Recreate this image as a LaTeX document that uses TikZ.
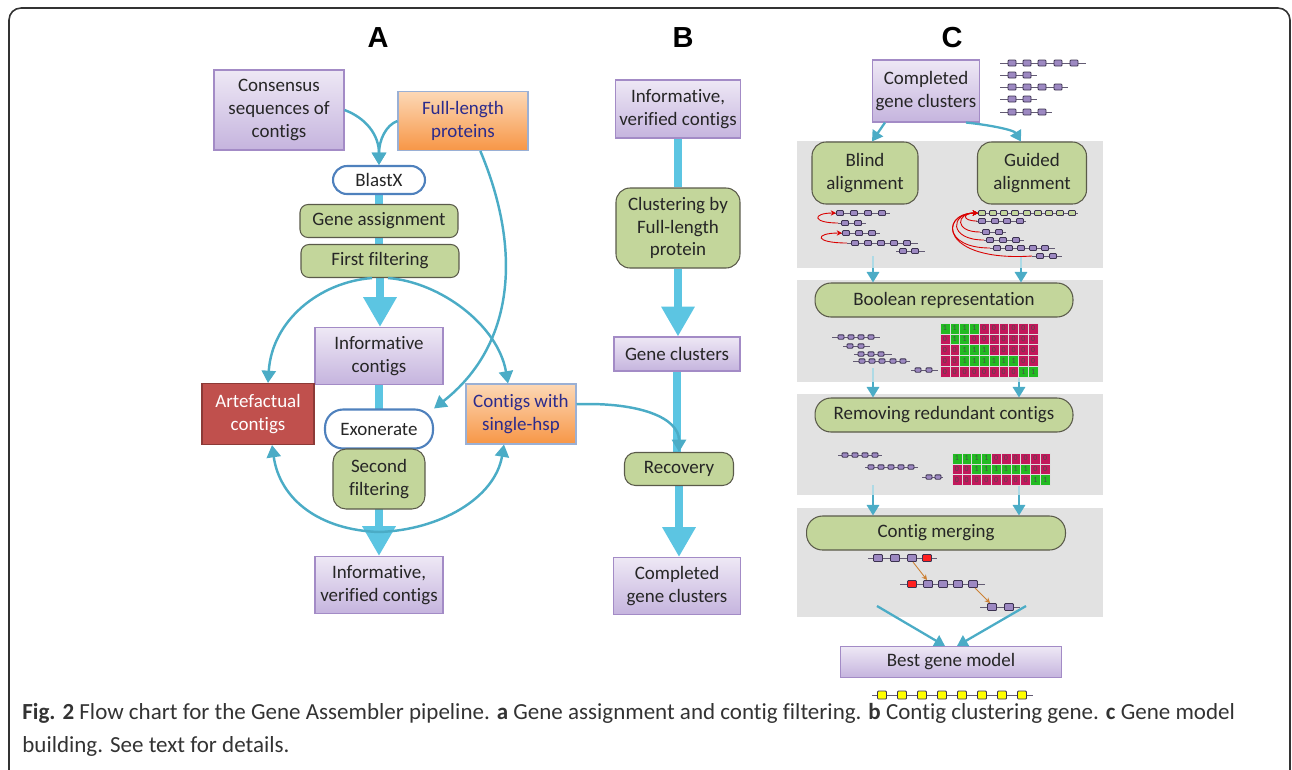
\documentclass[tikz,border=0pt]{standalone}
\usepackage{fontspec}
\setmainfont{Carlito}[Ligatures=CommonOff]
\newfontfamily\titlefont{Liberation Sans}
\usetikzlibrary{arrows.meta,backgrounds}

\definecolor{textdark}{HTML}{262626}
\definecolor{purpletop}{HTML}{EEE8F5}
\definecolor{purplebot}{HTML}{C5B4DE}
\definecolor{purpleline}{HTML}{A38BC6}
\definecolor{orangetop}{HTML}{FCD8B6}
\definecolor{orangebot}{HTML}{F79646}
\definecolor{orangeline}{HTML}{9AB0D5}
\definecolor{navytext}{HTML}{2B2B8C}
\definecolor{artered}{HTML}{C0504D}
\definecolor{redline}{HTML}{8C3A37}
\definecolor{greenfill}{HTML}{C3D69B}
\definecolor{greenline}{HTML}{5A5A4A}
\definecolor{pillblue}{HTML}{4F81BD}
\definecolor{arrowblue}{HTML}{4BACC6}
\definecolor{fatblue}{HTML}{5CC5E2}
\definecolor{panelgrey}{HTML}{E2E2E2}
\definecolor{exonfill}{HTML}{9D89C2}
\definecolor{exonedge}{HTML}{3C3250}
\definecolor{guidefill}{HTML}{C3D69B}
\definecolor{boolgreen}{HTML}{22BB22}
\definecolor{boolred}{HTML}{C2185B}
\definecolor{yellowex}{HTML}{FFFF00}
\definecolor{mergered}{HTML}{FF2020}
\definecolor{captext}{HTML}{333333}

% size of the little exon boxes (half width, half height, in px)
\newcommand{\exw}{3.5}
\newcommand{\exh}{2.5}
% one row of exons: [fill]{y}{line from}{line to}{box centres}
\newcommand{\exonrow}[5][exonfill]{%
  \draw[exonline] (#3,#2) -- (#4,#2);
  \foreach \bx in {#5}
    \draw[exonbox,fill=#1] (\bx-\exw,#2-\exh) rectangle (\bx+\exw,#2+\exh);
}
% boolean matrix: {name}{x0}{y0}{rows}
\newcommand{\boolgrid}[4]{%
  \foreach \row [count=\r] in {#4} {
    \foreach \v [count=\c] in \row {
      \ifnum\v=1 \def\cc{boolgreen}\else\def\cc{boolred}\fi
      \node[cell,fill=\cc] (#1-\r-\c) at (#2+\c*9.8-4.9,#3+\r*10.8-5.4) {\v};
    }
  }
}

\begin{document}
\begin{tikzpicture}
    [   x=0.02cm, y=-0.02cm,
        box/.style={align=center, inner sep=1pt, line width=0.6pt, text=textdark,
                    font=\fontsize{10.8}{13}\selectfont},
        purplebox/.style={box, draw=purpleline, top color=purpletop, bottom color=purplebot},
        orangebox/.style={box, draw=orangeline, top color=orangetop, bottom color=orangebot, text=navytext},
        redbox/.style={box, draw=redline, fill=artered, text=white},
        greenbox/.style={box, draw=greenline, fill=greenfill, rounded corners=#1},
        greenbox/.default=0.2cm,
        pillbox/.style={box, draw=pillblue, line width=1.2pt, fill=white, rounded corners=#1},
        paneltitle/.style={font=\titlefont\bfseries\fontsize{16.5}{18}\selectfont},
        thinarrow/.style={draw=arrowblue, line width=1.4pt, -{Triangle[width=8pt,length=7pt]}},
        linkarrow/.style={draw=arrowblue, line width=1.3pt, -{Triangle[width=7pt,length=6pt]}},
        fadestem/.style={draw=arrowblue!45, line width=1.3pt},
        fatline/.style={draw=fatblue, line width=5pt},
        fatarrow/.style={fatline, -{Triangle[width=18pt,length=17pt]}},
        exonline/.style={draw=exonedge!80, line width=0.5pt},
        exonbox/.style={draw=exonedge, line width=0.5pt, rounded corners=0.5pt},
        redloop/.style={draw=red!85!black, line width=0.5pt, -{Stealth[length=3pt,width=3pt]}},
        mergelink/.style={draw=brown!80!orange, line width=0.5pt, -{Stealth[length=3pt,width=3pt]}},
        cell/.style={draw=white!75!gray, line width=0.3pt, inner sep=0pt,
                     minimum width=0.196cm, minimum height=0.216cm,
                     text=black!70, font=\fontsize{4.5}{5}\selectfont},
        captionfont/.style={text=captext, inner sep=0pt, font=\fontsize{13.1}{15}\selectfont},
    ]
        \useasboundingbox (0,0) rectangle (1292,769);

        % frame
        \draw[black!80, line width=0.9pt, rounded corners=0.24cm] (9,800) -- (9,8) -- (1290,8) -- (1290,800);

        % panel titles
        \node[paneltitle] (titleA) at (378,38) {A};
        \node[paneltitle] (titleB) at (683,38) {B};
        \node[paneltitle] (titleC) at (952,38) {C};

        % grey panels of C
        \fill[panelgrey] (797,141) rectangle (1103,268);
        \fill[panelgrey] (797,280) rectangle (1103,382);
        \fill[panelgrey] (797,394) rectangle (1103,495);
        \fill[panelgrey] (797,508) rectangle (1103,617);

        % draw the nodes of A
        \node[purplebox, minimum width=2.6cm, minimum height=1.6cm] (cons) at (279,110) {Consensus\\sequences of\\contigs};
        \node[orangebox, minimum width=2.6cm, minimum height=1.18cm] (fullp) at (463,121) {Full-length\\proteins};
        \node[pillbox=0.28cm, minimum width=1.84cm, minimum height=0.56cm] (blastx) at (379,180) {BlastX};
        \node[greenbox=0.16cm, minimum width=3.16cm, minimum height=0.66cm] (geneass) at (379,221) {Gene assignment};
        \node[greenbox=0.16cm, minimum width=3.16cm, minimum height=0.66cm] (firstf) at (380,261) {First filtering};
        \node[purplebox, minimum width=2.56cm, minimum height=1.14cm] (infoA) at (379,356) {Informative\\contigs};
        \node[redbox, minimum width=2.24cm, minimum height=1.22cm] (artef) at (258,414) {Artefactual\\contigs};
        \node[orangebox, minimum width=2.2cm, minimum height=1.2cm] (single) at (521,414) {Contigs with\\single-hsp};
        \node[pillbox=0.36cm, minimum width=2.16cm, minimum height=0.78cm] (exon) at (379,429) {Exonerate};
        \node[greenbox=0.26cm, minimum width=1.84cm, minimum height=1.2cm] (secondf) at (379,479) {Second\\filtering};
        \node[purplebox, minimum width=2.56cm, minimum height=1.14cm] (verA) at (379,585) {Informative,\\verified contigs};

        % draw the nodes of B
        \node[purplebox, minimum width=2.5cm, minimum height=1.16cm] (verB) at (678,109) {Informative,\\verified contigs};
        \node[greenbox=0.28cm, minimum width=2.48cm, minimum height=1.6cm] (clust) at (678,228) {Clustering by\\Full-length\\protein};
        \node[purplebox, minimum width=2.52cm, minimum height=0.68cm] (genecl) at (677,354) {Gene clusters};
        \node[greenbox=0.22cm, minimum width=2.18cm, minimum height=0.66cm] (recov) at (679,469) {Recovery};
        \node[purplebox, minimum width=2.54cm, minimum height=1.14cm] (complB) at (677,586) {Completed\\gene clusters};

        % draw the nodes of C
        \node[purplebox, minimum width=2.14cm, minimum height=1.24cm] (complC) at (926,91) {Completed\\gene clusters};
        \node[greenbox=0.28cm, minimum width=2.12cm, minimum height=1.24cm] (blind) at (865,173) {Blind\\alignment};
        \node[greenbox=0.28cm, minimum width=2.18cm, minimum height=1.24cm] (guided) at (1032,173) {Guided\\alignment};
        \node[greenbox=0.32cm, minimum width=5.16cm, minimum height=0.68cm] (boolrep) at (944,300) {Boolean representation};
        \node[greenbox=0.32cm, minimum width=5.16cm, minimum height=0.68cm] (remove) at (944,415) {Removing redundant contigs};
        \node[greenbox=0.32cm, minimum width=5.18cm, minimum height=0.68cm] (merge) at (936,533) {Contig merging};
        \node[purplebox, minimum width=4.42cm, minimum height=0.62cm] (best) at (951,662) {Best gene model};

        % draw the fat lines
        \begin{scope}[on background layer]
            \draw[fatline] (blastx.south) -- (blastx.south |- firstf.south);
            \draw[fatarrow] (firstf.south) -- (firstf.south |- infoA.north);
            \draw[fatline] (infoA.south) -- (secondf.south);
            \draw[fatarrow] (secondf.south) -- (verA.north);
            \draw[fatline] (verB.south) -- (clust.north);
            \draw[fatarrow] (clust.south) -- (clust.south |- genecl.north);
            \draw[fatline] (genecl.south) -- (genecl.south |- recov.north);
            \draw[fatarrow] (recov.south) -- (recov.south |- complB.north);
        \end{scope}

        % draw the curves of A
        \coordinate (splitA) at (379,532);
        \draw[thinarrow] (cons.east) .. controls (366,118) and (379,135) .. (blastx.north);
        \draw[thinarrow] (fullp.west) .. controls (386,125) and (379,140) .. (blastx.north);
        \draw[thinarrow] (fullp.300) .. controls (522,250) and (515,345) .. (exon.north east);
        \draw[thinarrow] ([xshift=-0.16cm]firstf.south) .. controls (320,282) and (272,320) .. ([xshift=0.2cm]artef.north);
        \draw[thinarrow] ([xshift=0.16cm]firstf.south) .. controls (440,282) and (498,325) .. ([xshift=-0.26cm]single.north);
        \draw[thinarrow] (splitA) .. controls (320,530) and (280,500) .. ([xshift=0.28cm]artef.south);
        \draw[thinarrow] (splitA) .. controls (440,530) and (495,498) .. ([xshift=-0.34cm]single.south);
        \draw[thinarrow] (single.10) .. controls (640,402) and (679,418) .. (recov.north);

        % draw the links of C
        \draw[linkarrow] ([xshift=0.26cm]complC.south west) -- ([xshift=0.14cm]blind.north);
        \draw[linkarrow] ([xshift=-0.28cm]complC.south east) .. controls (990,125) and (1014,130) .. ([xshift=-0.22cm]guided.north);
        \coordinate (bl1) at (873,268);
        \coordinate (gl1) at (1021,268);
        \coordinate (bl2) at (873,382);
        \coordinate (gl2) at (1019,382);
        \coordinate (bl3) at (873,495);
        \coordinate (gl3) at (1019,495);
        \draw[fadestem] (873,256) -- (bl1);
        \draw[fadestem] (1021,256) -- (gl1);
        \draw[fadestem] (873,368) -- (bl2);
        \draw[fadestem] (1019,368) -- (gl2);
        \draw[fadestem] (873,485) -- (bl3);
        \draw[fadestem] (1019,485) -- (gl3);
        \draw[linkarrow] (bl1) -- (bl1 |- boolrep.north);
        \draw[linkarrow] (gl1) -- (gl1 |- boolrep.north);
        \draw[linkarrow] (bl2) -- (bl2 |- remove.north);
        \draw[linkarrow] (gl2) -- (gl2 |- remove.north);
        \draw[linkarrow] (bl3) -- (bl3 |- merge.north);
        \draw[linkarrow] (gl3) -- (gl3 |- merge.north);
        \coordinate (ml) at (877,606);
        \coordinate (mr) at (1026,606);
        \draw[linkarrow] (ml) -- ([xshift=-0.12cm]best.north);
        \draw[linkarrow] (mr) -- ([xshift=0.12cm]best.north);

        % exons next to the gene clusters
        \begin{scope}
            \renewcommand{\exw}{4}\renewcommand{\exh}{3}
            \exonrow{63}{1000}{1086}{1012,1027,1042,1058,1074}
            \exonrow{75}{1000}{1037}{1012,1027}
            \exonrow{87}{1000}{1068}{1012,1027,1042,1058}
            \exonrow{99}{1000}{1037}{1012,1027}
            \exonrow{112}{1000}{1052}{1012,1027,1042}
        \end{scope}

        % blind alignment
        \exonrow{213}{834}{890}{840,854,868,882}
        \exonrow{223}{838}{866}{845,858}
        \exonrow{233}{840}{880}{846,859,872}
        \exonrow{243}{847}{918}{855,868,881,894,907}
        \exonrow{251}{896}{925}{903,915}
        \draw[redloop] (838,223) .. controls (812,223) and (812,213) .. (836,213);
        \draw[redloop] (847,243) .. controls (814,243) and (814,233) .. (842,233);

        % guided alignment
        \exonrow[guidefill]{213}{976}{1078}{982,993,1004,1015,1027,1038,1049,1060,1072}
        \exonrow{221}{976}{1026}{982,995,1007,1020}
        \exonrow{232}{980}{1006}{986,999}
        \exonrow{240}{984}{1024}{990,1003,1016}
        \exonrow{248}{990}{1055}{997,1009,1021,1033,1045}
        \exonrow{256}{1032}{1062}{1040,1053}
        \draw[redloop] (977,221) .. controls (962,221) and (962,213) .. (978,213);
        \draw[redloop] (980,232) .. controls (954,232) and (956,213) .. (978,213);
        \draw[redloop] (984,240) .. controls (948,240) and (950,213) .. (978,213);
        \draw[redloop] (990,248) .. controls (942,248) and (944,213) .. (978,213);
        \draw[redloop] (1032,256) .. controls (940,262) and (938,213) .. (978,213);

        % boolean representation
        \begin{scope}
            \renewcommand{\exw}{3}\renewcommand{\exh}{2.2}
            \exonrow{337}{832}{880}{841,851,861,871}
            \exonrow{346}{843}{870}{850,861}
            \exonrow{354}{854}{892}{861,871,881}
            \exonrow{361}{853}{910}{862,872,882,893,903}
            \exonrow{370}{911}{938}{918,929}
            \exonrow{455}{838}{882}{845,855,865,875}
            \exonrow{467}{865}{918}{871,881,891,901,911}
            \exonrow{477}{922}{943}{929,938}
        \end{scope}
        \boolgrid{mA}{940}{323}{{1,1,1,1,0,0,0,0,0,0},{0,1,1,0,0,0,0,0,0,0},{0,0,1,1,1,0,0,0,0,0},{0,0,1,1,1,1,1,1,0,0},{0,0,0,0,0,0,0,0,1,1}}
        \boolgrid{mB}{952}{453}{{1,1,1,1,0,0,0,0,0,0},{0,0,1,1,1,1,1,1,0,0},{0,0,0,0,0,0,0,0,1,1}}

        % contig merging
        \begin{scope}
            \renewcommand{\exw}{4.5}\renewcommand{\exh}{3.5}
            \exonrow{558}{868}{937}{878,895,912}
            \exonrow[mergered]{558}{937}{937}{927}
            \exonrow{584}{900}{985}{928,943,958,973}
            \exonrow[mergered]{584}{912}{912}{912}
            \exonrow{607}{980}{1020}{992,1009}
            \draw[mergelink] (913,562) -- (927,580);
            \draw[mergelink] (975,588) -- (990,603);
        \end{scope}

        % best gene model
        \begin{scope}
            \renewcommand{\exw}{4.5}\renewcommand{\exh}{4}
            \exonrow[yellowex]{695}{872}{1033}{882,902,922,942,962,982,1002,1022}
        \end{scope}

        % caption
        \node[captionfont, anchor=base west] (cap1) at (22,719) {\textbf{Fig. 2} Flow chart for the Gene Assembler pipeline. \textbf{a} Gene assignment and contig filtering. \textbf{b} Contig clustering gene. \textbf{c} Gene model};
        \node[captionfont, anchor=base west] (cap2) at (22,752) {building. See text for details.};
    \end{tikzpicture}
\end{document}
